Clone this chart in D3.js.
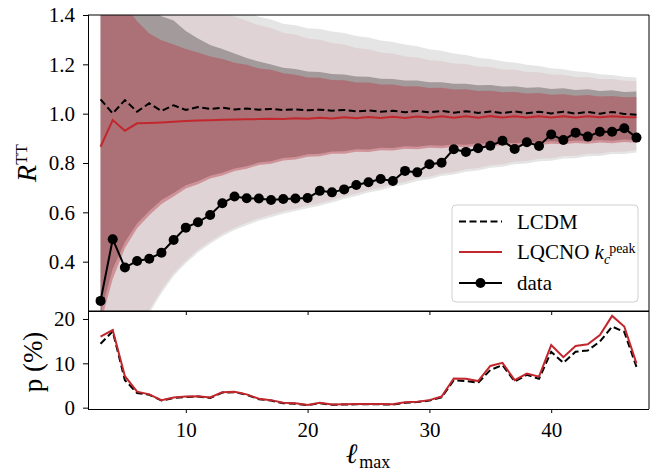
<!DOCTYPE html>
<html>
<head>
<meta charset="utf-8">
<script src="https://cdn.jsdelivr.net/npm/d3@7"></script>
<style>
  body { margin: 0; background: #fff; }
  svg { display: block; }
  text { font-family: "Liberation Serif", "Times New Roman", serif; fill: #000; }
</style>
</head>
<body>
<svg id="chart" width="657" height="472"></svg>
<script>
// multipole cut l_max
const ell = [3, 4, 5, 6, 7, 8, 9, 10, 11, 12, 13, 14, 15, 16, 17, 18, 19, 20, 21, 22, 23, 24, 25,
  26, 27, 28, 29, 30, 31, 32, 33, 34, 35, 36, 37, 38, 39, 40, 41, 42, 43, 44, 45, 46, 47];

// R^TT statistic measured on the data
const rData = [0.241, 0.491, 0.376, 0.403, 0.412, 0.436, 0.488, 0.538, 0.560, 0.589, 0.637, 0.664,
  0.657, 0.656, 0.650, 0.654, 0.656, 0.658, 0.687, 0.681, 0.693, 0.711, 0.722, 0.735, 0.727, 0.768,
  0.762, 0.795, 0.801, 0.856, 0.845, 0.860, 0.870, 0.890, 0.857, 0.884, 0.869, 0.916, 0.893, 0.923,
  0.907, 0.927, 0.927, 0.941, 0.903];

// ensemble means
const rLCDM = [1.058, 1.001, 1.055, 1.008, 1.042, 1.011, 1.034, 1.015, 1.027, 1.019, 1.024, 1.017,
  1.021, 1.016, 1.019, 1.015, 1.017, 1.014, 1.016, 1.012, 1.015, 1.009, 1.013, 1.008, 1.012, 1.006,
  1.011, 1.005, 1.011, 1.004, 1.010, 1.003, 1.009, 1.002, 1.009, 1.002, 1.008, 1.001, 1.008, 1.000,
  1.007, 1.000, 1.007, 0.999, 0.996];
const rLQCNO = [0.866, 0.974, 0.931, 0.961, 0.962, 0.964, 0.967, 0.970, 0.972, 0.973, 0.975, 0.976,
  0.977, 0.978, 0.979, 0.978, 0.981, 0.979, 0.983, 0.980, 0.985, 0.981, 0.986, 0.982, 0.987, 0.982,
  0.988, 0.983, 0.989, 0.983, 0.989, 0.983, 0.990, 0.984, 0.990, 0.984, 0.990, 0.984, 0.990, 0.984,
  0.990, 0.985, 0.990, 0.986, 0.985];

// LCDM 1 sigma / 2 sigma bands
const lcdmLo1 = [0.19, 0.37, 0.48, 0.555, 0.605, 0.650, 0.678, 0.710, 0.726, 0.748, 0.760, 0.778,
  0.787, 0.802, 0.807, 0.820, 0.824, 0.835, 0.837, 0.847, 0.848, 0.856, 0.855, 0.862, 0.861, 0.868,
  0.866, 0.872, 0.870, 0.876, 0.874, 0.880, 0.877, 0.883, 0.880, 0.886, 0.883, 0.888, 0.886, 0.891,
  0.888, 0.893, 0.890, 0.895, 0.892];
const lcdmHi1 = [2.2, 1.8, 1.6, 1.49, 1.43, 1.395, 1.378, 1.335, 1.305, 1.278, 1.262, 1.244, 1.226,
  1.211, 1.199, 1.186, 1.181, 1.171, 1.169, 1.161, 1.159, 1.151, 1.150, 1.142, 1.141, 1.134, 1.134,
  1.127, 1.127, 1.121, 1.121, 1.115, 1.116, 1.110, 1.111, 1.105, 1.107, 1.100, 1.103, 1.096, 1.099,
  1.092, 1.095, 1.088, 1.090];
const lcdmLo2 = [-0.7, -0.3, -0.03, 0.10, 0.19, 0.272, 0.342, 0.394, 0.437, 0.473, 0.503, 0.528,
  0.548, 0.566, 0.580, 0.594, 0.605, 0.617, 0.627, 0.640, 0.654, 0.666, 0.680, 0.690, 0.704, 0.713,
  0.727, 0.734, 0.747, 0.753, 0.765, 0.770, 0.781, 0.785, 0.795, 0.798, 0.807, 0.809, 0.818, 0.819,
  0.827, 0.828, 0.836, 0.836, 0.843];
const lcdmHi2 = [3.0, 2.4, 2.1, 1.9, 1.78, 1.7, 1.63, 1.57, 1.52, 1.48, 1.45, 1.428, 1.412, 1.393,
  1.382, 1.365, 1.358, 1.346, 1.343, 1.333, 1.327, 1.315, 1.309, 1.297, 1.291, 1.280, 1.273, 1.261,
  1.255, 1.244, 1.238, 1.227, 1.222, 1.212, 1.207, 1.198, 1.193, 1.184, 1.180, 1.172, 1.168, 1.160,
  1.157, 1.150, 1.147];

// LQCNO 1 sigma / 2 sigma bands
const lqcnoLo1 = [0.15, 0.33, 0.455, 0.535, 0.588, 0.634, 0.664, 0.697, 0.714, 0.737, 0.749, 0.768,
  0.777, 0.792, 0.797, 0.810, 0.814, 0.825, 0.827, 0.837, 0.838, 0.846, 0.845, 0.852, 0.851, 0.858,
  0.856, 0.862, 0.860, 0.866, 0.864, 0.870, 0.867, 0.873, 0.870, 0.876, 0.873, 0.878, 0.876, 0.881,
  0.878, 0.883, 0.880, 0.885, 0.882];
const lqcnoHi1 = [2.0, 1.62, 1.44, 1.375, 1.325, 1.298, 1.280, 1.262, 1.248, 1.232, 1.222, 1.206,
  1.198, 1.183, 1.178, 1.164, 1.158, 1.147, 1.146, 1.136, 1.135, 1.126, 1.126, 1.118, 1.118, 1.110,
  1.111, 1.104, 1.105, 1.098, 1.099, 1.092, 1.093, 1.087, 1.088, 1.082, 1.084, 1.077, 1.079, 1.073,
  1.076, 1.070, 1.072, 1.067, 1.068];
const lqcnoLo2 = [-0.6, -0.25, 0.0, 0.12, 0.205, 0.285, 0.354, 0.405, 0.448, 0.483, 0.513, 0.538,
  0.558, 0.576, 0.590, 0.604, 0.615, 0.627, 0.637, 0.650, 0.664, 0.676, 0.690, 0.700, 0.714, 0.723,
  0.737, 0.744, 0.757, 0.763, 0.775, 0.780, 0.791, 0.795, 0.805, 0.808, 0.817, 0.819, 0.828, 0.829,
  0.837, 0.838, 0.846, 0.846, 0.853];
const lqcnoHi2 = [2.8, 2.2, 1.95, 1.78, 1.66, 1.58, 1.52, 1.48, 1.45, 1.425, 1.41, 1.393, 1.377,
  1.358, 1.347, 1.328, 1.320, 1.305, 1.300, 1.286, 1.280, 1.266, 1.261, 1.248, 1.244, 1.232, 1.228,
  1.217, 1.214, 1.203, 1.201, 1.191, 1.189, 1.179, 1.178, 1.169, 1.168, 1.159, 1.158, 1.149, 1.149,
  1.141, 1.141, 1.133, 1.131];

// probability of a value as low as the data (%)
const pLCDM = [14.4, 17.2, 6.2, 3.3, 2.9, 1.6, 2.2, 2.4, 2.5, 2.2, 3.4, 3.5, 2.9, 1.9, 1.6, 1.0, 0.9,
  0.55, 1.0, 0.65, 0.7, 0.75, 0.8, 0.75, 0.7, 1.1, 1.25, 1.6, 2.3, 6.2, 6.0, 5.6, 8.5, 9.6, 5.9, 7.4,
  6.5, 12.6, 10.1, 12.6, 12.9, 14.9, 18.3, 17.1, 9.2];
const pLQCNO = [16.0, 17.5, 7.1, 3.6, 3.0, 1.7, 2.3, 2.5, 2.6, 2.3, 3.5, 3.6, 3.0, 2.0, 1.7, 1.1, 1.0,
  0.6, 1.1, 0.7, 0.75, 0.8, 0.85, 0.8, 0.75, 1.2, 1.35, 1.7, 2.5, 6.6, 6.5, 6.0, 9.4, 10.1, 6.2, 7.7,
  7.0, 14.1, 11.4, 13.9, 14.3, 16.4, 20.7, 18.3, 10.0];

const xTicks = [10, 20, 30, 40];
const rTicks = [0.4, 0.6, 0.8, 1.0, 1.2, 1.4];
const pTicks = [0, 10, 20];

const RED = "#c1272d";
const svg = d3.select("#chart");
const L = 88, R = 649, T = 15, M = 311, B = 409;

const x = d3.scaleLinear().domain([1.97, 48.03]).range([L, R]);
const yR = d3.scaleLinear().domain([0.2, 1.4]).range([M, T]);
const yP = d3.scaleLinear().domain([-0.3, 21.8]).range([B, M]);

const defs = svg.append("defs");
defs.append("clipPath").attr("id", "clipTop")
  .append("rect").attr("x", L).attr("y", T).attr("width", R - L).attr("height", M - T);
defs.append("clipPath").attr("id", "clipBot")
  .append("rect").attr("x", L).attr("y", M).attr("width", R - L).attr("height", B - M);

// ---------- upper panel ----------
const gTop = svg.append("g").attr("clip-path", "url(#clipTop)");
const band = (lo, hi) => d3.area()
  .x((d, i) => x(ell[i]))
  .y0((d, i) => yR(lo[i]))
  .y1((d, i) => yR(hi[i]))(ell);

gTop.append("path").attr("d", band(lcdmLo2, lcdmHi2)).attr("fill", "#000").attr("fill-opacity", 0.1);
gTop.append("path").attr("d", band(lqcnoLo2, lqcnoHi2)).attr("fill", "rgb(154,0,26)").attr("fill-opacity", 0.08);
gTop.append("path").attr("d", band(lcdmLo1, lcdmHi1)).attr("fill", "#000").attr("fill-opacity", 0.27);
gTop.append("path").attr("d", band(lqcnoLo1, lqcnoHi1)).attr("fill", "rgb(184,58,70)").attr("fill-opacity", 0.42);

const lineR = arr => d3.line().x((d, i) => x(ell[i])).y((d, i) => yR(arr[i]))(ell);
gTop.append("path").attr("d", lineR(rLCDM)).attr("fill", "none").attr("stroke", "#000")
  .attr("stroke-width", 2).attr("stroke-dasharray", "7,3.5");
gTop.append("path").attr("d", lineR(rLQCNO)).attr("fill", "none").attr("stroke", RED)
  .attr("stroke-width", 2);
gTop.append("path").attr("d", lineR(rData)).attr("fill", "none").attr("stroke", "#000")
  .attr("stroke-width", 2);
gTop.selectAll("circle.pt").data(rData).join("circle").attr("class", "pt")
  .attr("cx", (d, i) => x(ell[i])).attr("cy", d => yR(d)).attr("r", 5).attr("fill", "#000");

// ---------- lower panel ----------
const gBot = svg.append("g").attr("clip-path", "url(#clipBot)");
const lineP = arr => d3.line().x((d, i) => x(ell[i])).y((d, i) => yP(arr[i]))(ell);
gBot.append("path").attr("d", lineP(pLCDM)).attr("fill", "none").attr("stroke", "#000")
  .attr("stroke-width", 2).attr("stroke-dasharray", "7,3.5");
gBot.append("path").attr("d", lineP(pLQCNO)).attr("fill", "none").attr("stroke", RED)
  .attr("stroke-width", 2);

// ---------- axes ----------
function styleAxis(g, fs) {
  g.select(".domain").remove();
  g.selectAll(".tick line").attr("stroke", "#000").attr("stroke-width", 1);
  g.selectAll(".tick text").attr("font-size", fs).attr("fill", "#000");
}
svg.append("g").attr("transform", `translate(${L},0)`)
  .call(d3.axisLeft(yR).tickValues(rTicks).tickFormat(d3.format(".1f")).tickSize(5).tickPadding(8))
  .call(g => styleAxis(g, 21));
svg.append("g").attr("transform", `translate(${L},0)`)
  .call(d3.axisLeft(yP).tickValues(pTicks).tickFormat(d3.format("d")).tickSize(5).tickPadding(8))
  .call(g => styleAxis(g, 21));
svg.append("g").attr("transform", `translate(0,${B})`)
  .call(d3.axisBottom(x).tickValues(xTicks).tickFormat(d3.format("d")).tickSize(4).tickPadding(9))
  .call(g => styleAxis(g, 21));
svg.append("g").attr("transform", `translate(0,${M})`)
  .call(d3.axisBottom(x).tickValues(xTicks).tickFormat("").tickSize(4))
  .call(g => styleAxis(g, 21));

// frames
function frame(y0, y1) {
  svg.append("line").attr("x1", L + 0.5).attr("x2", L + 0.5).attr("y1", y0).attr("y2", y1 + 0.5).attr("stroke", "#000");
  svg.append("line").attr("x1", L).attr("x2", R).attr("y1", y1 + 0.5).attr("y2", y1 + 0.5).attr("stroke", "#000");
  svg.append("line").attr("x1", L).attr("x2", R).attr("y1", y0).attr("y2", y0).attr("stroke", "#000");
  svg.append("line").attr("x1", R).attr("x2", R).attr("y1", y0).attr("y2", y1).attr("stroke", "#000");
}
frame(T, M);
frame(M, B);

// axis titles
const yl = svg.append("text").attr("transform", "translate(36,163) rotate(-90)").attr("text-anchor", "middle");
yl.append("tspan").attr("font-size", 28).attr("font-style", "italic").text("R");
yl.append("tspan").attr("font-size", 17).attr("dy", -9).text("TT");

svg.append("text").attr("transform", "translate(42,362) rotate(-90)").attr("text-anchor", "middle")
  .attr("font-size", 27).text("p (%)");

const xl = svg.append("text").attr("x", 368).attr("y", 463).attr("text-anchor", "middle");
xl.append("tspan").attr("font-size", 28).attr("font-style", "italic").text("ℓ");
xl.append("tspan").attr("font-size", 18).attr("dy", 5).attr("dx", 2).text("max");

// ---------- legend ----------
const lg = svg.append("g");
lg.append("rect").attr("x", 452).attr("y", 205).attr("width", 186).attr("height", 97).attr("rx", 4)
  .attr("fill", "#fff").attr("fill-opacity", 0.8).attr("stroke", "#d0d0d0");
const entries = [
  { y: 221.5, label: "LCDM", kind: "dash" },
  { y: 252, label: "LQCNO", kind: "red" },
  { y: 283, label: "data", kind: "data" }
];
entries.forEach(e => {
  const ln = lg.append("line").attr("x1", 459).attr("x2", 502).attr("y1", e.y).attr("y2", e.y).attr("stroke-width", 2);
  if (e.kind === "dash") ln.attr("stroke", "#000").attr("stroke-dasharray", "7,3.5");
  else if (e.kind === "red") ln.attr("stroke", RED);
  else {
    ln.attr("stroke", "#000");
    lg.append("circle").attr("cx", 480.5).attr("cy", e.y).attr("r", 5).attr("fill", "#000");
  }
  const t = lg.append("text").attr("x", 517).attr("y", e.y + 7).attr("font-size", 21).text(e.label);
  if (e.kind === "red") {
    t.append("tspan").text(" ");
    t.append("tspan").attr("font-style", "italic").text("k");
    t.append("tspan").attr("font-style", "italic").attr("font-size", 14).attr("dy", 5).text("c");
    t.append("tspan").attr("font-size", 14).attr("dy", -11).attr("dx", -1).text("peak");
  }
});
</script>
</body>
</html>
